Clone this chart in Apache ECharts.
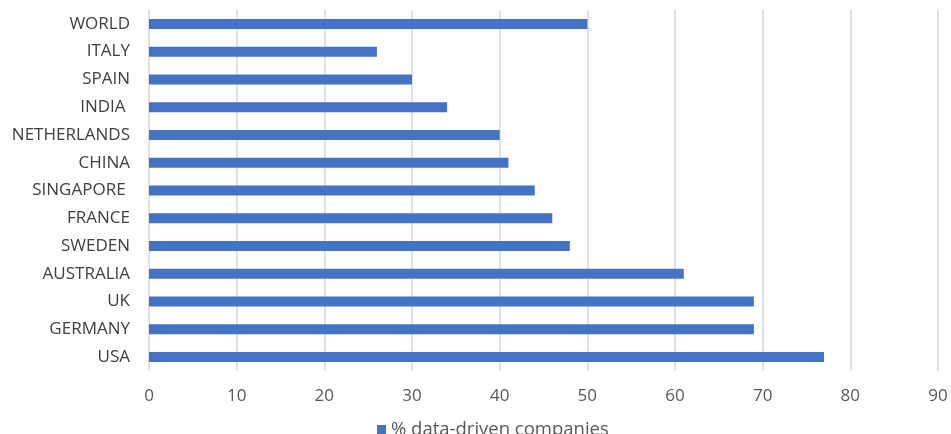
<!DOCTYPE html>
<html>

<head>
    <meta charset="utf-8">
    <script src="https://cdn.jsdelivr.net/npm/echarts@6/dist/echarts.min.js"></script>
    <style>
        html, body { margin: 0; padding: 0; background: #fff; }
    </style>
</head>

<body>
    <div id="chart" style="width:951px; height:434px;"></div>
</body>

<script type="text/javascript">
    var countries = ['WORLD', 'ITALY', 'SPAIN', 'INDIA ', 'NETHERLANDS', 'CHINA', 'SINGAPORE ', 'FRANCE', 'SWEDEN', 'AUSTRALIA', 'UK', 'GERMANY', 'USA'];
    var shares = [50, 26, 30, 34, 40, 41, 44, 46, 48, 61, 69, 69, 77];
    var seriesName = '% data-driven companies';

    var font = '"Open Sans", "Noto Sans", sans-serif';

    // bottom-up order for the category axis
    var cats = countries.slice().reverse();
    var vals = shares.slice().reverse();

    var option = {
        animation: false,
        textStyle: { fontFamily: font },
        grid: {
            left: 149,
            right: 13,
            top: 10,
            bottom: 63
        },
        legend: {
            top: 415,
            left: 372,
            icon: 'rect',
            itemWidth: 9,
            itemHeight: 9,
            itemGap: 6,
            textStyle: { color: '#595959', fontSize: 18.5, fontFamily: font },
            data: [seriesName]
        },
        xAxis: {
            type: 'value',
            min: 0,
            max: 90,
            interval: 10,
            axisLine: { show: false },
            axisTick: { show: false },
            axisLabel: { color: '#595959', fontSize: 17, margin: 17, fontFamily: font },
            splitLine: { show: true, lineStyle: { color: '#d9d9d9', width: 1.5 } }
        },
        yAxis: {
            type: 'category',
            data: cats,
            axisLine: { show: false },
            axisTick: { show: false },
            axisLabel: { color: '#404040', fontSize: 17, margin: 19, fontFamily: font }
        },
        series: [{
            name: seriesName,
            type: 'bar',
            data: vals,
            barWidth: 10,
            itemStyle: { color: '#4472C4' }
        }]
    };

    var chart = echarts.init(document.getElementById('chart'));
    chart.setOption(option);
</script>

</html>
